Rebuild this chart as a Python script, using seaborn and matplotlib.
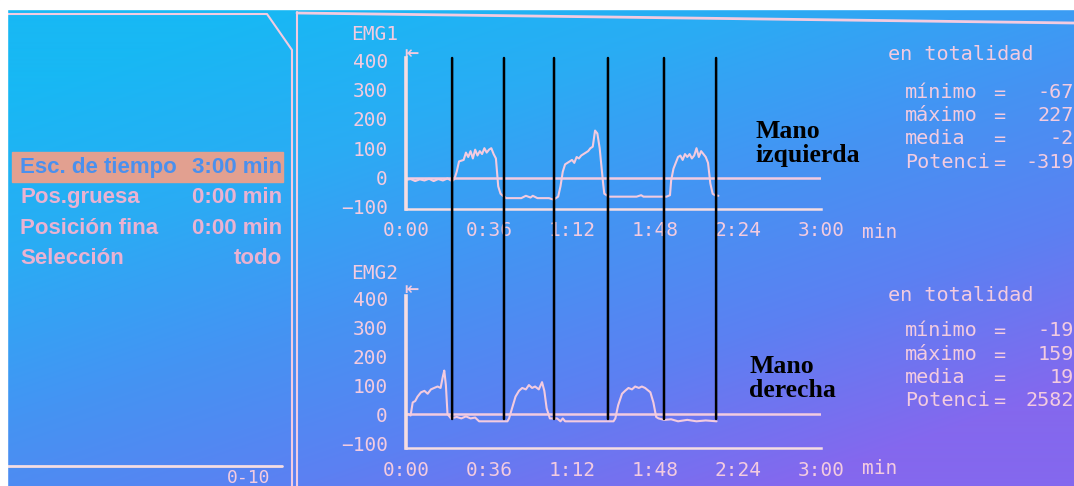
import numpy as np
import matplotlib
matplotlib.use("Agg")
import matplotlib.pyplot as plt
from matplotlib.colors import LinearSegmentedColormap
from matplotlib.patches import ConnectionPatch, Rectangle
import seaborn as sns

# ---------------------------------------------------------------------------
# Datos leídos de la pantalla (tiempo en segundos, amplitud)
# ---------------------------------------------------------------------------
emg1_t = [0, 2, 4, 6, 8, 10, 12, 14, 16, 18, 20, 21, 22, 23, 25, 26, 27, 28, 29, 30,
          31, 32, 33, 34, 35, 36, 37, 38, 39, 40, 41, 42, 43.5, 50, 52, 54, 55, 57, 62,
          64, 66, 67, 68, 69, 71, 72, 73, 74, 75, 76, 77, 78, 79, 80, 81, 82, 83, 84,
          85.5, 86, 87, 88, 100, 102, 103, 113, 114.5, 115, 116, 117, 118, 119, 120,
          121, 122, 123, 124, 125, 126, 127, 128, 129, 130, 131, 132, 133, 134, 135.5]
emg1_v = [-8, -5, -12, -6, -10, -4, -12, -5, -10, -3, -12, -5, 20, 55, 60, 85, 70, 90, 65, 95,
          75, 90, 80, 100, 85, 95, 100, 80, 65, -30, -55, -62, -70, -70, -62, -68, -62, -70, -70,
          -75, -65, -30, 20, 45, 55, 60, 50, 70, 65, 75, 80, 85, 90, 100, 105, 160, 150, 100,
          -20, -55, -60, -65, -65, -60, -65, -65, -60, -10, 30, 50, 70, 75, 60,
          80, 70, 80, 65, 75, 100, 70, 90, 80, 70, 50, -20, -55, -60, -62]

emg2_t = [0, 1, 2, 2.9, 4, 5, 6.5, 8, 9.4, 10.8, 12.2, 13.7, 15, 16, 16.6, 17.3, 18, 19.5,
          22, 24, 26, 28, 30, 31.7, 36, 40, 44, 44.7, 46, 47.5, 49, 50.4, 52, 53.3, 54.7,
          56, 57.6, 59, 60, 61, 62.4, 65.5, 67, 68, 69, 75, 80, 85, 90, 90.8, 92, 93.7, 95,
          96.5, 98, 99.4, 101, 102.3, 103.7, 106, 107.3, 108.5, 109.5, 112, 115, 118, 122,
          126, 130, 134.7]
emg2_v = [-5, 0, -5, 40, 45, 60, 75, 80, 70, 85, 90, 95, 90, 130, 150, 100, 0, -15,
          -10, -15, -8, -15, -12, -25, -25, -25, -25, -15, 20, 60, 80, 90, 85, 100, 90,
          95, 85, 110, 80, 20, -15, -15, -25, -15, -25, -25, -25, -25, -25, -15, 30, 70, 80,
          90, 85, 95, 90, 95, 90, 75, 40, -10, -15, -20, -18, -25, -20,
          -25, -22, -25]

marcas_t = [20.0, 42.5, 64.2, 87.6, 111.9, 134.5]

x_ticks = [0, 36, 72, 108, 144, 180]
x_labels = ["0:00", "0:36", "1:12", "1:48", "2:24", "3:00"]
x_minor = [18, 54, 90, 126, 162]
y_ticks = [-100, 0, 100, 200, 300, 400]

stats_emg1 = [("mínimo", "-67"), ("máximo", "227"), ("media", "-2"), ("Potenci", "-319")]
stats_emg2 = [("mínimo", "-19"), ("máximo", "159"), ("media", "19"), ("Potenci", "2582")]

menu = [("Esc. de tiempo", "3:00 min"), ("Pos.gruesa", "0:00 min"),
        ("Posición fina", "0:00 min"), ("Selección", "todo")]

# ---------------------------------------------------------------------------
# Estilo
# ---------------------------------------------------------------------------
sns.set_style("white")
plt.rcParams['font.family'] = ['DejaVu Sans Mono', 'DejaVu Sans']

W, H = 1074, 486
ROSA = "#f3cbe0"
ROSA_EJE = "#f6dde2"
MONO = ['DejaVu Sans Mono', 'DejaVu Sans']

fig = plt.figure(figsize=(W / 100, H / 100), dpi=100)

# fondo con degradado (pantalla fotografiada)
bg = fig.add_axes([0, 0, 1, 1], zorder=0)
bg.set_xlim(0, W)
bg.set_ylim(H, 0)
bg.axis("off")
cmap = LinearSegmentedColormap.from_list(
    "pantalla", ["#18b8f4", "#2aacf4", "#4494f3", "#5c80f2", "#8468ee"])
yy, xx = np.mgrid[0:H, 0:W]
grad = np.clip(0.55 * xx / W + 0.75 * yy / H - 0.15, 0, 1)
bg.imshow(grad, cmap=cmap, extent=[0, W, H, 0], aspect="auto", vmin=0, vmax=1)
bg.add_patch(Rectangle((0, 0), W, 9, color="white", zorder=2))
bg.add_patch(Rectangle((0, 0), 7, H, color="white", zorder=2))

# marcos del panel
bg.plot([7, 267, 292, 292], [14, 14, 50, H], color=ROSA, lw=1.5, zorder=1)
bg.plot([297, 297], [12, H], color=ROSA, lw=1.5, zorder=1)
bg.plot([297, W], [13, 23], color=ROSA, lw=2, zorder=1)
bg.plot([7, 282], [466, 466], color=ROSA_EJE, lw=2, zorder=1)
bg.text(270, 478, "0-10", ha="right", va="center", color=ROSA, fontsize=13, family=MONO)

# menú izquierdo
bg.add_patch(Rectangle((12, 152), 271, 30, color="#e2a090", zorder=1))
menu_y = [167, 197, 228, 258]
for i, ((lbl, val), y) in enumerate(zip(menu, menu_y)):
    col = "#4a90ee" if i == 0 else "#eab2d2"
    fam = ['Liberation Sans Narrow', 'Liberation Sans', 'DejaVu Sans']
    bg.text(20, y, lbl, ha="left", va="center", color=col, fontsize=16,
            fontweight="bold", family=fam)
    bg.text(282, y, val, ha="right", va="center", color=col, fontsize=16,
            fontweight="bold", family=fam)


def px_axes(x0, y_top, x1, y_bot):
    return fig.add_axes([x0 / W, 1 - y_bot / H, (x1 - x0) / W, (y_bot - y_top) / H], zorder=3)


def preparar(ax, t, v, ylim):
    ax.set_facecolor("none")
    sns.lineplot(x=t, y=v, ax=ax, color=ROSA, linewidth=1.5, estimator=None, sort=False)
    ax.axhline(0, color=ROSA, lw=1.8, zorder=1)
    ax.set_xlim(0, 180)
    ax.set_ylim(*ylim)
    ax.set_xlabel("")
    ax.set_ylabel("")
    for s in ["top", "right"]:
        ax.spines[s].set_visible(False)
    ax.spines["left"].set_color(ROSA_EJE)
    ax.spines["left"].set_linewidth(2.6)
    ax.spines["bottom"].set_color(ROSA_EJE)
    ax.spines["bottom"].set_linewidth(1.8)
    ax.set_xticks(x_ticks)
    ax.set_xticklabels(x_labels)
    ax.set_xticks(x_minor, minor=True)
    ax.set_yticks(y_ticks)
    ax.tick_params(axis="both", which="both", direction="out", colors=ROSA_EJE,
                   labelcolor=ROSA, labelsize=14, length=4, width=1.5)
    ax.tick_params(axis="y", pad=9)
    ax.tick_params(axis="x", pad=5)
    for lab in ax.get_xticklabels() + ax.get_yticklabels():
        lab.set_family(MONO)


ax1 = px_axes(406, 58, 821, 209)
preparar(ax1, emg1_t, emg1_v, (-107, 407))
ax2 = px_axes(406, 296, 821, 448)
preparar(ax2, emg2_t, emg2_v, (-117, 407))

# títulos y unidades
for y_emg, y_flecha, y_min, nombre in [(35, 53, 232, "EMG1"), (273, 289, 468, "EMG2")]:
    bg.text(351, y_emg, nombre, ha="left", va="center", color=ROSA, fontsize=14, family=MONO)
    bg.text(404, y_flecha, "⇤", ha="left", va="center", color=ROSA, fontsize=17, family=MONO)
    bg.text(862, y_min, "min", ha="left", va="center", color=ROSA, fontsize=14, family=MONO)

# estadísticas
for y0, filas_y, stats in [(54, [92, 115, 138, 162], stats_emg1),
                           (295, [330, 354, 377, 400], stats_emg2)]:
    bg.text(888, y0, "en totalidad", ha="left", va="center", color=ROSA, fontsize=14.5, family=MONO)
    for (lbl, val), y in zip(stats, filas_y):
        bg.text(905, y, lbl, ha="left", va="center", color=ROSA, fontsize=14.5, family=MONO)
        bg.text(999, y + 1, "=", ha="center", va="center", color=ROSA, fontsize=14.5, family=MONO)
        bg.text(1074, y, val, ha="right", va="center", color=ROSA, fontsize=14.5, family=MONO)

# líneas negras de los intervalos
for t in marcas_t:
    con = ConnectionPatch(xyA=(t, 407), coordsA=ax1.transData,
                          xyB=(t, -17), coordsB=ax2.transData,
                          color="black", lw=1.8, zorder=5)
    fig.add_artist(con)

serif = ['Liberation Serif', 'DejaVu Serif']
bg.text(755, 120, "Mano\nizquierda", ha="left", va="top", color="black", fontsize=18.5,
        fontweight="bold", family=serif, linespacing=1.05, zorder=6)
bg.text(749, 355, "Mano\nderecha", ha="left", va="top", color="black", fontsize=18.5,
        fontweight="bold", family=serif, linespacing=1.05, zorder=6)

plt.savefig("out.png", dpi=100)
plt.close()
